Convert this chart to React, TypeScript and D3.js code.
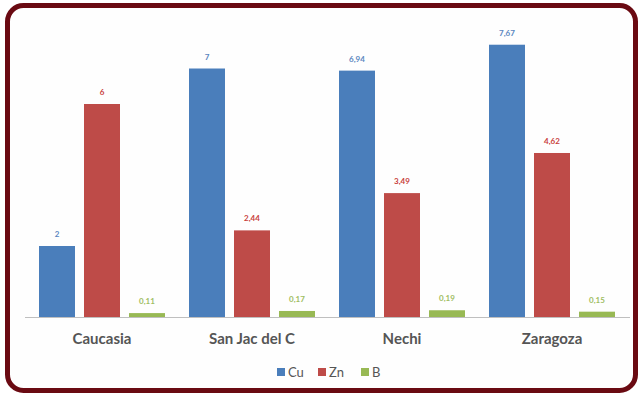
import React from "react";
import * as d3 from "d3";

const categories = ["Caucasia", "San Jac del C", "Nechi", "Zaragoza"];
const seriesNames = ["Cu", "Zn", "B"];
const cuValues = [2, 7, 6.94, 7.67];
const znValues = [6, 2.44, 3.49, 4.62];
const bValues = [0.11, 0.17, 0.19, 0.15];
const valueLabels = [
  ["2", "7", "6,94", "7,67"],
  ["6", "2,44", "3,49", "4,62"],
  ["0,11", "0,17", "0,19", "0,15"],
];
const colors = ["#4a7ebb", "#be4b48", "#98b954"];
const labelColors = ["#5a86c0", "#c8403a", "#9fbd62"];

const W = 638;
const H = 394;
const plot = { left: 27, right: 627, top: 33, bottom: 317 };
const font = "Lato, 'Open Sans', sans-serif";

export default function App() {
  const series = [cuValues, znValues, bValues];
  const x0 = d3
    .scaleBand<string>()
    .domain(categories)
    .range([plot.left, plot.right])
    .paddingInner(0)
    .paddingOuter(0);
  const x1 = d3
    .scaleBand<string>()
    .domain(seriesNames)
    .range([12, x0.bandwidth() - 12])
    .paddingInner(0.2)
    .paddingOuter(0);
  const y = d3.scaleLinear().domain([0, 8]).range([plot.bottom, plot.top]);

  const legendX = [277, 318, 361];

  return (
    <svg
      width={W}
      height={H}
      style={{ position: "absolute", left: 0, top: 0, background: "#fff" }}
    >
      <rect
        x={7.5}
        y={5.5}
        width={628}
        height={385}
        rx={16}
        ry={16}
        fill="#fefefe"
        stroke="#6a0a12"
        strokeWidth={5}
      />
      {series.map((vals, si) =>
        vals.map((v, ci) => {
          const bx = (x0(categories[ci]) ?? 0) + (x1(seriesNames[si]) ?? 0);
          const by = y(v);
          return (
            <g key={`${si}-${ci}`}>
              <rect
                x={bx}
                y={by}
                width={x1.bandwidth()}
                height={plot.bottom - by}
                fill={colors[si]}
              />
              <text
                x={bx + x1.bandwidth() / 2}
                y={by - 9}
                textAnchor="middle"
                fontFamily={font}
                fontSize={8}
                fontWeight="bold"
                fill={labelColors[si]}
              >
                {valueLabels[si][ci]}
              </text>
            </g>
          );
        })
      )}
      <line
        x1={plot.left - 2}
        x2={plot.right + 3}
        y1={plot.bottom + 0.5}
        y2={plot.bottom + 0.5}
        stroke="#bfbfbf"
        strokeWidth={1}
      />
      {categories.map((c) => (
        <text
          key={c}
          x={(x0(c) ?? 0) + x0.bandwidth() / 2}
          y={344}
          textAnchor="middle"
          fontFamily={font}
          fontSize={15}
          fontWeight="bold"
          fill="#555555"
        >
          {c}
        </text>
      ))}
      {seriesNames.map((s, i) => (
        <g key={s}>
          <rect x={legendX[i]} y={368} width={8} height={8} fill={colors[i]} />
          <text
            x={legendX[i] + 11}
            y={377}
            fontFamily={font}
            fontSize={13}
            fill="#555555"
          >
            {s}
          </text>
        </g>
      ))}
    </svg>
  );
}
